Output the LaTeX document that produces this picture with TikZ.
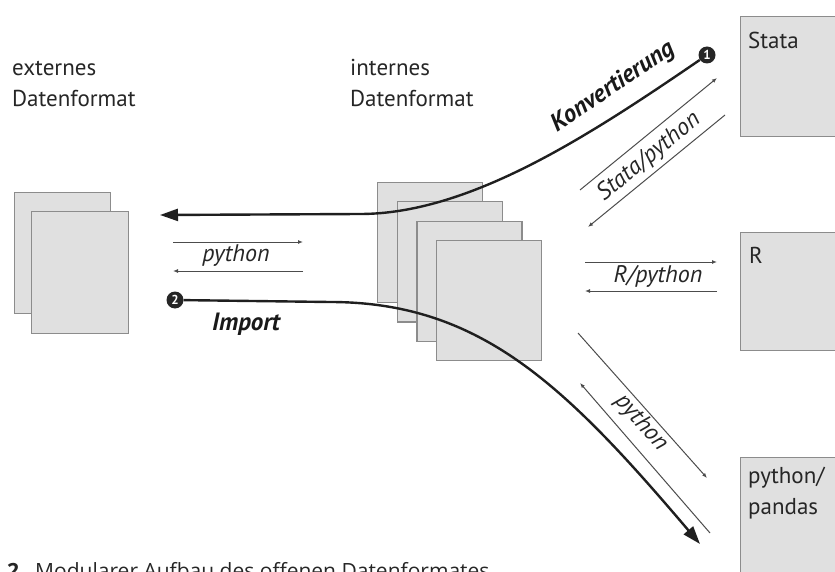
\documentclass[tikz,border=0pt]{standalone}
\usepackage{fontspec}
\setmainfont{PT Sans}
\newfontfamily\capfont{Open Sans}
\usetikzlibrary{arrows.meta}

\begin{document}
\begin{tikzpicture}[x=1pt, y=-1pt, font=\fontsize{23}{31}\selectfont, text=black!85]
  %
  \tikzstyle{pg} = [draw=black!45, fill=black!12, line width=1.2pt, inner sep=0pt, anchor=north west]
  \tikzstyle{tx} = [inner sep=0pt, anchor=north west, align=left]
  \tikzstyle{thin} = [draw=black!70, line width=1pt, -{Latex[length=5pt,width=4pt]}]
  \tikzstyle{big} = [draw=black!88, line width=2.4pt, -{Triangle[length=18pt,width=12pt]}]
  \tikzstyle{num} = [circle, fill=black!85, text=white, inner sep=0pt, minimum size=17pt, font=\bfseries\fontsize{13}{13}\selectfont]
  \tikzstyle{lbl} = [inner sep=0pt, font=\itshape\fontsize{24}{24}\selectfont]
  \tikzstyle{blbl} = [inner sep=0pt, font=\bfseries\itshape\fontsize{25}{25}\selectfont, text=black!90]
  \useasboundingbox (0,0) rectangle (835,572);
  %
  \node[tx, anchor=base west] (ext) at (12,107) {externes\\Datenformat};
  \node[tx, anchor=base west] (int) at (350,107) {internes\\Datenformat};
  %
  \node[pg, minimum width=96pt, minimum height=121pt] (ext1) at (14,192) {};
  \node[pg, minimum width=97pt, minimum height=122pt] (ext2) at (31,211) {};
  \foreach \i in {0,...,3}
    \node[pg, minimum width=105pt, minimum height=120pt] (int\i) at (377+19.7*\i,182+19.3*\i) {};
  %
  \node[pg, minimum width=110pt, minimum height=120pt] (stata) at (740,16) {};
  \node[pg, minimum width=110pt, minimum height=118pt] (r) at (740,232) {};
  \node[pg, minimum width=110pt, minimum height=125pt] (pandas) at (740,457) {};
  \node[tx] (stataTxt) at (748,32) {Stata};
  \node[tx] (rTxt) at (749,247) {R};
  \node[tx] (pandasTxt) at (748,467) {python/\\pandas};
  %
  \coordinate (la1) at (173,242); \coordinate (la2) at (303,242);
  \coordinate (lb1) at (303,271); \coordinate (lb2) at (173,271);
  \draw[thin] (la1) -- (la2);
  \draw[thin] (lb1) -- (lb2);
  \node[lbl] (lpy) at (236,256) {python};
  %
  \coordinate (sa1) at (580,190); \coordinate (sa2) at (717,78);
  \coordinate (sb1) at (725,115); \coordinate (sb2) at (588,227);
  \draw[thin] (sa1) -- (sa2);
  \draw[thin] (sb1) -- (sb2);
  \node[lbl, rotate=39.3] (spy) at (649,157) {Stata/python};
  %
  \coordinate (ra1) at (585,262); \coordinate (ra2) at (717,262);
  \coordinate (rb1) at (717,291); \coordinate (rb2) at (585,291);
  \draw[thin] (ra1) -- (ra2);
  \draw[thin] (rb1) -- (rb2);
  \node[lbl] (rpy) at (658,276) {R/python};
  %
  \coordinate (pa1) at (578,333); \coordinate (pa2) at (707,478);
  \coordinate (pb1) at (710,533); \coordinate (pb2) at (580,383);
  \draw[thin] (pa1) -- (pa2);
  \draw[thin] (pb1) -- (pb2);
  \node[lbl, rotate=-48.3] (ppy) at (641,423) {python};
  %
  \node[num] (one) at (707,55) {1};
  \coordinate (konvEnd) at (160,215);
  \draw[big] (one) .. controls (590,135) and (470,214) .. (360,214) -- (konvEnd);
  \node[blbl, rotate=34] (konv) at (613,87) {Konvertierung};
  %
  \node[num] (two) at (175,300) {2};
  \coordinate (impEnd) at (700,544);
  \draw[big] (two) -- (330,302) .. controls (480,302) and (565,385) .. (impEnd);
  \node[blbl] (imp) at (246,324) {Import};
  %
  \node[inner sep=0pt, anchor=base west, font=\capfont\fontsize{21}{21}\selectfont] (cap) at (7,578) {\textbf{2}\hspace{16pt}Modularer Aufbau des offenen Datenformates};
\end{tikzpicture}
\end{document}
